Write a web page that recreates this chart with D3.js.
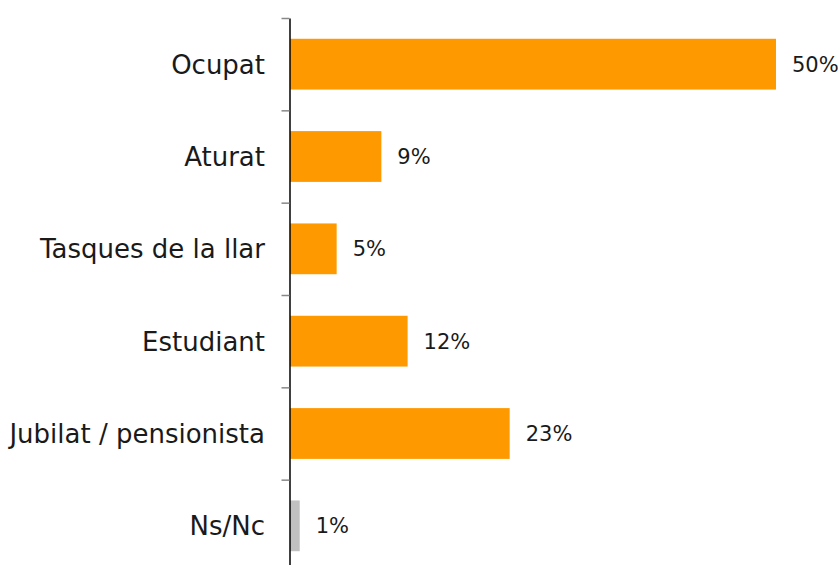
<!DOCTYPE html>
<html>
<head>
<meta charset="utf-8">
<script src="https://cdn.jsdelivr.net/npm/d3@7"></script>
<style>
  html, body { margin: 0; padding: 0; background: #fff; }
  svg { display: block; }
</style>
</head>
<body>
<svg id="chart" width="840" height="565"></svg>
<script>
const categories = ["Ocupat", "Aturat", "Tasques de la llar", "Estudiant", "Jubilat / pensionista", "Ns/Nc"];
const values = [50.0, 9.4, 4.8, 12.1, 22.6, 1.0];
const barColors = ["#FF9900", "#FF9900", "#FF9900", "#FF9900", "#FF9900", "#C0C0C0"];
const valueLabels = values.map(v => Math.round(v) + "%");

const svg = d3.select("#chart");
const axisX = 290, plotTop = 18, plotBottom = 572;

const y = d3.scaleBand().domain(categories).range([plotTop, plotBottom]).paddingInner(0.45).paddingOuter(0.225);
const x = d3.scaleLinear().domain([0, 50]).range([axisX, 776]);
const yIdx = d3.scaleLinear().domain([0, categories.length]).range([plotTop, plotBottom]);

// bars
svg.selectAll("rect.bar").data(categories).join("rect")
  .attr("class", "bar")
  .attr("x", x(0))
  .attr("y", d => y(d))
  .attr("width", (d, i) => x(values[i]) - x(0))
  .attr("height", y.bandwidth())
  .attr("fill", (d, i) => barColors[i]);

// axis with boundary ticks
const axis = svg.append("g").attr("transform", `translate(${axisX - 0.5},0)`)
  .call(d3.axisLeft(yIdx).tickValues(d3.range(categories.length + 1)).tickFormat("").tickSize(8).tickSizeOuter(0));
axis.select(".domain").attr("stroke", "#000").attr("stroke-width", 1.5);
axis.selectAll(".tick line").attr("stroke", "#888").attr("stroke-width", 1.5);

// category labels
svg.selectAll("text.cat").data(categories).join("text")
  .attr("class", "cat")
  .attr("x", 265)
  .attr("y", d => y(d) + y.bandwidth() / 2)
  .attr("dy", "0.36em")
  .attr("text-anchor", "end")
  .attr("font-family", "DejaVu Sans, sans-serif")
  .attr("font-size", 26)
  .attr("fill", "#1a1a1a")
  .text(d => d);

// value labels
svg.selectAll("text.val").data(categories).join("text")
  .attr("class", "val")
  .attr("x", (d, i) => x(values[i]) + 16)
  .attr("y", d => y(d) + y.bandwidth() / 2)
  .attr("dy", "0.36em")
  .attr("font-family", "DejaVu Sans, sans-serif")
  .attr("font-size", 21)
  .attr("fill", "#1a1a1a")
  .text((d, i) => valueLabels[i]);
</script>
</body>
</html>
